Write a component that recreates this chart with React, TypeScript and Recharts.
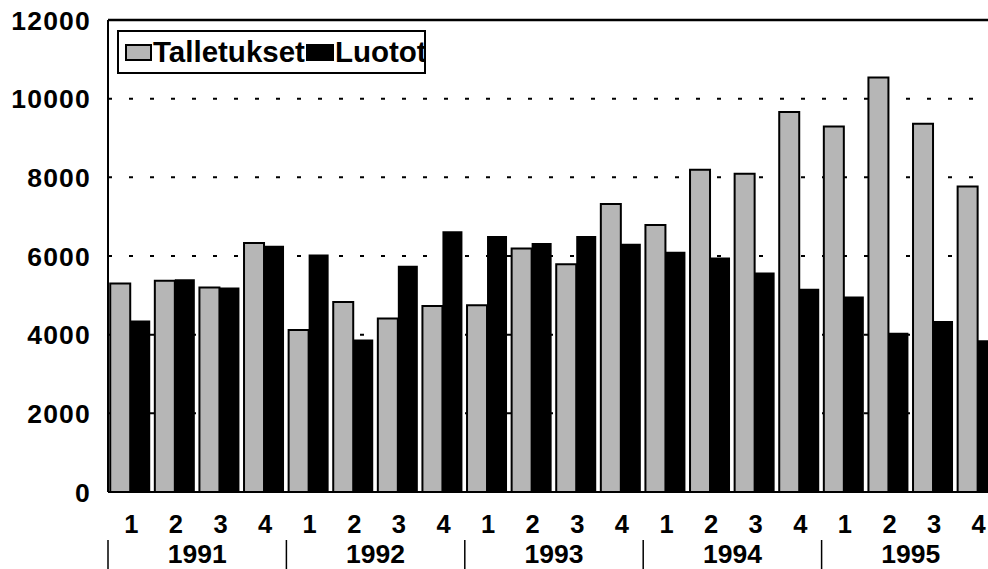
import React from 'react';
import { BarChart, Bar, XAxis, YAxis, CartesianGrid, ReferenceLine, Legend } from 'recharts';

const years = ['1991', '1992', '1993', '1994', '1995'];
const quarterLabels = ['1', '2', '3', '4'];
const talletukset = [5300, 5370, 5200, 6330, 4120, 4830, 4410, 4730, 4750, 6190, 5790, 7320, 6790, 8190, 8090, 9660, 9290, 10540, 9360, 7770];
const luotot = [4360, 5410, 5200, 6260, 6040, 3880, 5750, 6630, 6510, 6330, 6510, 6310, 6110, 5960, 5580, 5170, 4970, 4050, 4350, 3860];
const yTicks = [0, 2000, 4000, 6000, 8000, 10000, 12000];
const seriesNames = ['Talletukset', 'Luotot'];

const data = years.flatMap((year, yi) =>
  quarterLabels.map((q, qi) => ({
    q,
    year,
    talletukset: talletukset[yi * 4 + qi],
    luotot: luotot[yi * 4 + qi],
  }))
);

const FONT = '"Liberation Sans", Arial, Helvetica, sans-serif';
const GRAY = '#b6b6b6';
const CAT_HALF = 892 / 20 / 2;

const YTick = (props: any) => {
  const { y, payload } = props;
  return (
    <text x={91} y={y} dy="0.36em" textAnchor="end" fontFamily={FONT} fontWeight="bold" fontSize={26.5} letterSpacing={1.2} fill="#000">
      {payload.value}
    </text>
  );
};

const QuarterTick = (props: any) => {
  const { x, payload } = props;
  return (
    <text x={x + 1} y={524} dy="0.36em" textAnchor="middle" fontFamily={FONT} fontWeight="bold" fontSize={25.5} fill="#000">
      {payload.value}
    </text>
  );
};

const YearTick = (props: any) => {
  const { x, payload, index } = props;
  const off = payload && typeof payload.offset === 'number' && payload.offset > 0 ? payload.offset : CAT_HALF;
  const i = typeof index === 'number' ? index : 0;
  if (i % 4 === 0) {
    return <line x1={x - off} x2={x - off} y1={540} y2={569} stroke="#000" strokeWidth={1.5} />;
  }
  if (i % 4 === 1) {
    return (
      <text x={x + off} y={563} textAnchor="middle" fontFamily={FONT} fontWeight="bold" fontSize={26.5} fill="#000">
        {payload.value}
      </text>
    );
  }
  return <g />;
};

const LegendContent = () => (
  <div
    style={{
      boxSizing: 'border-box',
      width: 309,
      height: 44,
      border: '2px solid #000',
      background: '#fff',
      display: 'flex',
      alignItems: 'center',
      paddingLeft: 6,
      fontFamily: FONT,
      fontWeight: 'bold',
      fontSize: 29.5,
      color: '#000',
      whiteSpace: 'nowrap',
      overflow: 'hidden',
    }}
  >
    <span style={{ display: 'inline-block', flex: 'none', boxSizing: 'border-box', width: 27, height: 17, background: GRAY, border: '2px solid #000', marginRight: 1 }} />
    <span style={{ flex: 'none' }}>{seriesNames[0]}</span>
    <span style={{ display: 'inline-block', flex: 'none', width: 28, height: 17, background: '#000', marginLeft: 1, marginRight: 1 }} />
    <span style={{ flex: 'none' }}>{seriesNames[1]}</span>
  </div>
);

export default function App() {
  return (
    <div style={{ position: 'absolute', left: 0, top: 0, width: 988, height: 569, overflow: 'hidden', background: '#fff' }}>
      <BarChart
        width={1010}
        height={569}
        data={data}
        margin={{ top: 20, right: 10, bottom: 0, left: 0 }}
        barGap={0}
        barCategoryGap="5%"
      >
        <CartesianGrid vertical={false} stroke="#000" strokeWidth={2} strokeDasharray="4 17" />
        <ReferenceLine y={12000} stroke="#000" strokeWidth={2.5} ifOverflow="extendDomain" />
        <XAxis
          dataKey="q"
          height={45}
          interval={0}
          tickLine={false}
          axisLine={{ stroke: '#000', strokeWidth: 2 }}
          tick={<QuarterTick />}
        />
        <XAxis
          dataKey="year"
          xAxisId="yr"
          height={32}
          interval={0}
          allowDuplicatedCategory={true}
          tickLine={false}
          axisLine={false}
          tick={<YearTick />}
        />
        <YAxis
          width={108}
          domain={[0, 12000]}
          ticks={yTicks}
          interval={0}
          tickLine={false}
          axisLine={{ stroke: '#000', strokeWidth: 2 }}
          tick={<YTick />}
        />
        <Legend
          layout="horizontal"
          verticalAlign="middle"
          align="center"
          content={<LegendContent />}
          wrapperStyle={{ position: 'absolute', left: 117, top: 30, width: 309, height: 44 }}
        />
        <Bar dataKey="talletukset" name={seriesNames[0]} fill={GRAY} stroke="#000" strokeWidth={2} isAnimationActive={false} />
        <Bar dataKey="luotot" name={seriesNames[1]} fill="#000" isAnimationActive={false} />
      </BarChart>
    </div>
  );
}
